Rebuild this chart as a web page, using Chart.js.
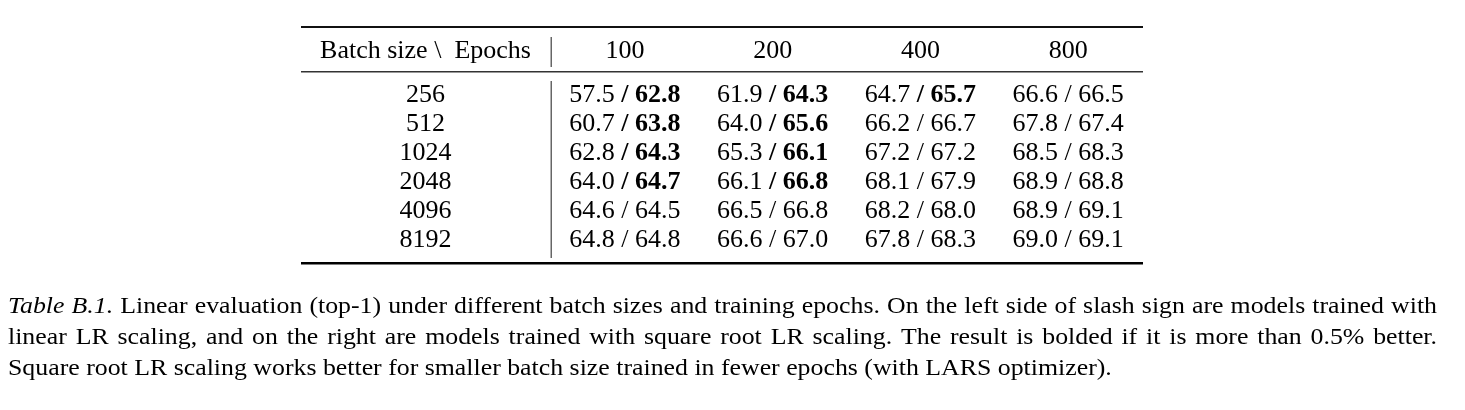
<!DOCTYPE html>
<html>
<head>
<meta charset="utf-8">
<script src="https://cdn.jsdelivr.net/npm/chart.js@4"></script>
<style>
  html, body { margin: 0; padding: 0; background: #fff; }
  #wrap { width: 1465px; height: 410px; }
</style>
</head>
<body>
<div id="wrap"><canvas id="c" width="1465" height="410"></canvas></div>
<script>
// ---- data ----
const epochs = ['100', '200', '400', '800'];
const batchSizes = ['256', '512', '1024', '2048', '4096', '8192'];
const cornerLabel = 'Batch size \\  Epochs';

const linear100 = [57.5, 60.7, 62.8, 64.0, 64.6, 64.8];
const sqrt100   = [62.8, 63.8, 64.3, 64.7, 64.5, 64.8];
const bold100   = [true, true, true, true, false, false];

const linear200 = [61.9, 64.0, 65.3, 66.1, 66.5, 66.6];
const sqrt200   = [64.3, 65.6, 66.1, 66.8, 66.8, 67.0];
const bold200   = [true, true, true, true, false, false];

const linear400 = [64.7, 66.2, 67.2, 68.1, 68.2, 67.8];
const sqrt400   = [65.7, 66.7, 67.2, 67.9, 68.0, 68.3];
const bold400   = [true, false, false, false, false, false];

const linear800 = [66.6, 67.8, 68.5, 68.9, 68.9, 69.0];
const sqrt800   = [66.5, 67.4, 68.3, 68.8, 69.1, 69.1];
const bold800   = [false, false, false, false, false, false];

const captionLabel = ['Table', 'B.1.'];
const captionLines = [
  'Linear evaluation (top-1) under different batch sizes and training epochs. On the left side of slash sign are models trained with',
  'linear LR scaling, and on the right are models trained with square root LR scaling. The result is bolded if it is more than 0.5% better.',
  'Square root LR scaling works better for smaller batch size trained in fewer epochs (with LARS optimizer).'
];

const linearByEpoch = [linear100, linear200, linear400, linear800];
const sqrtByEpoch = [sqrt100, sqrt200, sqrt400, sqrt800];
const boldByEpoch = [bold100, bold200, bold400, bold800];

// ---- build datasets (one per epoch column) ----
const datasets = epochs.map((ep, ci) => ({
  label: ep,
  data: batchSizes.map((bs, ri) => ({ x: ep, y: bs, lin: linearByEpoch[ci][ri], sq: sqrtByEpoch[ci][ri], bold: boldByEpoch[ci][ri] })),
  pointRadius: 0,
  pointHoverRadius: 0,
  showLine: false
}));

const FONT = '"Liberation Serif", "DejaVu Serif", serif';
const TSIZE = 26;

const tablePlugin = {
  id: 'tablePlugin',
  afterDraw(chart) {
    const ctx = chart.ctx;
    const xs = chart.scales.x, ys = chart.scales.y;
    const area = chart.chartArea;
    const leftEdge = 301;
    const rightEdge = area.right + 1;
    const headerBase = area.top - 21.5;
    const labelColX = 425.5;
    ctx.save();
    ctx.textBaseline = 'alphabetic';

    // rules
    ctx.fillStyle = '#111';
    ctx.fillRect(leftEdge, 26, rightEdge - leftEdge, 2);      // top
    ctx.fillStyle = '#333';
    ctx.fillRect(leftEdge, 71, rightEdge - leftEdge, 1.5);    // mid
    ctx.fillStyle = '#000';
    ctx.fillRect(leftEdge, area.bottom + 8.5, rightEdge - leftEdge, 2.5); // bottom

    // vertical separator
    ctx.fillStyle = '#666';
    const sx = area.left - 0.5;
    ctx.fillRect(sx, 37, 1.5, 30);
    ctx.fillRect(sx, area.top + 1.5, 1.5, area.bottom - area.top + 3);

    ctx.fillStyle = '#000';
    ctx.textAlign = 'center';
    ctx.font = TSIZE + 'px ' + FONT;
    // header
    ctx.fillText(cornerLabel, labelColX, headerBase);
    epochs.forEach((ep, i) => {
      ctx.fillText(ep, xs.getPixelForValue(i), headerBase);
    });
    // row labels
    batchSizes.forEach((bs, ri) => {
      ctx.fillText(bs, labelColX, ys.getPixelForValue(ri) + 7.5);
    });
    // cells
    ctx.textAlign = 'left';
    const fN = TSIZE + 'px ' + FONT;
    const fB = 'bold ' + TSIZE + 'px ' + FONT;
    chart.data.datasets.forEach((ds, di) => {
      const meta = chart.getDatasetMeta(di);
      meta.data.forEach((pt, i) => {
        const d = ds.data[i];
        const left = d.lin.toFixed(1) + ' ';
        const right = '/ ' + d.sq.toFixed(1);
        ctx.font = fN;
        const wl = ctx.measureText(left).width;
        ctx.font = d.bold ? fB : fN;
        const wr = ctx.measureText(right).width;
        const x0 = pt.x - (wl + wr) / 2;
        const y = pt.y + 7.5;
        ctx.font = fN;
        ctx.fillText(left, x0, y);
        ctx.font = d.bold ? fB : fN;
        ctx.fillText(right, x0 + wl, y);
      });
    });

    // caption: font fitted to width, slightly squashed vertically like the reference
    const capLeft = 8, capRight = 1437, line3Width = 1104;
    ctx.font = '24px ' + FONT;
    const cs = 24 * line3Width / ctx.measureText(captionLines[2]).width;
    const vScale = 0.93;
    const cN = cs + 'px ' + FONT;
    const cI = 'italic ' + cs + 'px ' + FONT;
    const baselines = [313, 344, 375];
    captionLines.forEach((line, li) => {
      const y = baselines[li];
      ctx.save();
      ctx.translate(capLeft, y);
      ctx.scale(1, vScale);
      if (li === 2) {
        ctx.font = cN;
        ctx.fillText(line, 0, 0);
        ctx.restore();
        return;
      }
      const tokens = [];
      if (li === 0) captionLabel.forEach(w => tokens.push({ t: w, f: cI }));
      line.split(' ').forEach(w => tokens.push({ t: w, f: cN }));
      const widths = tokens.map(p => { ctx.font = p.f; return ctx.measureText(p.t).width; });
      const total = widths.reduce((a, b) => a + b, 0);
      const gap = ((capRight - capLeft) - total) / (tokens.length - 1);
      let x = 0;
      tokens.forEach((p, k) => {
        ctx.font = p.f;
        ctx.fillText(p.t, x, 0);
        x += widths[k] + gap;
      });
      ctx.restore();
    });
    ctx.restore();
  }
};

function build() {
  new Chart(document.getElementById('c'), {
    type: 'scatter',
    data: { datasets },
    options: {
      responsive: false,
      animation: false,
      devicePixelRatio: 1,
      layout: { padding: { left: 551, right: 1465 - 1142, top: 79.5, bottom: 410 - 253.5 } },
      plugins: { legend: { display: false }, tooltip: { enabled: false } },
      events: [],
      scales: {
        x: { type: 'category', labels: epochs, offset: true, display: false },
        y: { type: 'category', labels: batchSizes, offset: true, display: false }
      }
    },
    plugins: [tablePlugin]
  });
}
Promise.all([
  document.fonts.load('26px "Liberation Serif"'),
  document.fonts.load('bold 26px "Liberation Serif"'),
  document.fonts.load('italic 24px "Liberation Serif"')
]).then(build, build);
</script>
</body>
</html>
